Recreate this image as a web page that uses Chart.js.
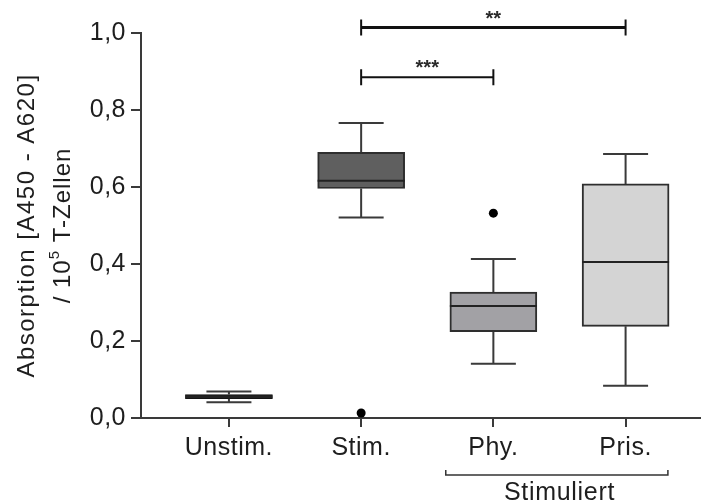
<!DOCTYPE html>
<html>
<head>
<meta charset="utf-8">
<script src="https://cdn.jsdelivr.net/npm/chart.js@4.4.1/dist/chart.umd.min.js"></script>
<style>
html,body{margin:0;padding:0;background:#fff;}
#wrap{width:704px;height:504px;position:relative;}
</style>
</head>
<body>
<div id="wrap"><canvas id="c" width="704" height="504"></canvas></div>
<script>
// ---- data ----
const categories = ['Unstim.', 'Stim.', 'Phy.', 'Pris.'];
const whiskerMin = [0.041, 0.521, 0.141, 0.084];
const quartile1  = [0.050, 0.596, 0.224, 0.238];
const medians    = [0.055, 0.616, 0.291, 0.405];
const quartile3  = [0.061, 0.690, 0.327, 0.608];
const whiskerMax = [0.069, 0.766, 0.413, 0.686];
const outlierCategory = [2, 3];
const outlierValues   = [0.013, 0.532];
const yTicks = [0, 0.2, 0.4, 0.6, 0.8, 1.0];
const sigFrom  = [2, 2];
const sigTo    = [4, 3];
const sigLevel = [1.014, 0.885];
const sigLabel = ['**', '***'];
const groupLabel = 'Stimuliert';
const groupFrom = 2.64;
const groupTo   = 4.32;
const yTitleLine1 = 'Absorption [A450 - A620]';
const yTitleLine2 = ['/ 10', '5', ' T-Zellen'];

// ---- styles ----
const FONT = "'Liberation Sans', Arial, Helvetica, sans-serif";
const TEXT = '#1e1e1e';
const AXIS = '#3a3a3a';
const boxColors  = ['#a4a4a4', '#5f5f5f', '#a2a1a5', '#d4d4d4'];
const boxBorders = ['#111111', '#2e2e2e', '#2e2e2e', '#2e2e2e'];
const boxBorderW = [2.5, 2, 2, 2];
const BOX_W = 87;
const CAP_HALF = 22.5;

const boxPlugin = {
  id: 'boxParts',
  beforeUpdate(chart) {
    try { chart.ctx.letterSpacing = '0.5px'; } catch (e) {}
  },
  afterDatasetsDraw(chart) {
    const ctx = chart.ctx, xs = chart.scales.x, ys = chart.scales.y;
    ctx.save();
    ctx.lineCap = 'butt';
    categories.forEach((c, i) => {
      const cx = xs.getPixelForValue(i + 1);
      ctx.strokeStyle = '#3a3a3a';
      ctx.lineWidth = 2;
      ctx.beginPath();
      ctx.moveTo(cx, ys.getPixelForValue(quartile3[i]));
      ctx.lineTo(cx, ys.getPixelForValue(whiskerMax[i]));
      ctx.moveTo(cx, ys.getPixelForValue(quartile1[i]));
      ctx.lineTo(cx, ys.getPixelForValue(whiskerMin[i]));
      ctx.moveTo(cx - CAP_HALF, ys.getPixelForValue(whiskerMax[i]));
      ctx.lineTo(cx + CAP_HALF, ys.getPixelForValue(whiskerMax[i]));
      ctx.moveTo(cx - CAP_HALF, ys.getPixelForValue(whiskerMin[i]));
      ctx.lineTo(cx + CAP_HALF, ys.getPixelForValue(whiskerMin[i]));
      ctx.stroke();
      ctx.strokeStyle = '#222';
      ctx.lineWidth = i === 0 ? 3 : 2;
      ctx.beginPath();
      ctx.moveTo(cx - BOX_W / 2, ys.getPixelForValue(medians[i]));
      ctx.lineTo(cx + BOX_W / 2, ys.getPixelForValue(medians[i]));
      ctx.stroke();
    });
    ctx.restore();
  },
  afterDraw(chart) {
    const ctx = chart.ctx, xs = chart.scales.x, ys = chart.scales.y, ca = chart.chartArea;
    ctx.save();
    sigFrom.forEach((f, i) => {
      const x1 = xs.getPixelForValue(f), x2 = xs.getPixelForValue(sigTo[i]);
      const y = ys.getPixelForValue(sigLevel[i]);
      ctx.strokeStyle = '#111';
      ctx.lineWidth = i === 0 ? 3 : 2;
      ctx.beginPath();
      ctx.moveTo(x1, y); ctx.lineTo(x2, y);
      ctx.stroke();
      ctx.lineWidth = 2;
      ctx.beginPath();
      ctx.moveTo(x1, y - 8); ctx.lineTo(x1, y + 8);
      ctx.moveTo(x2, y - 8); ctx.lineTo(x2, y + 8);
      ctx.stroke();
      ctx.fillStyle = '#2a2a2a';
      ctx.font = 'bold 20px ' + FONT;
      ctx.textAlign = 'center';
      ctx.textBaseline = 'alphabetic';
      try { ctx.letterSpacing = '0px'; } catch (e) {}
      ctx.fillText(sigLabel[i], (x1 + x2) / 2, y - 3);
    });
    const gx1 = xs.getPixelForValue(groupFrom), gx2 = xs.getPixelForValue(groupTo);
    const gy = ca.bottom + 57;
    ctx.strokeStyle = '#333';
    ctx.lineWidth = 1.5;
    ctx.beginPath();
    ctx.moveTo(gx1, gy - 5); ctx.lineTo(gx1, gy); ctx.lineTo(gx2, gy); ctx.lineTo(gx2, gy - 5);
    ctx.stroke();
    ctx.fillStyle = TEXT;
    ctx.font = '25px ' + FONT;
    ctx.textAlign = 'center';
    ctx.textBaseline = 'alphabetic';
    try { ctx.letterSpacing = '0.7px'; } catch (e) {}
    ctx.fillText(groupLabel, xs.getPixelForValue(3.5), ca.bottom + 82);
    const cy = (ca.top + ca.bottom) / 2;
    ctx.save();
    ctx.translate(34, cy);
    ctx.rotate(-Math.PI / 2);
    try { ctx.letterSpacing = '1.5px'; } catch (e) {}
    ctx.font = '24px ' + FONT;
    ctx.textAlign = 'center';
    ctx.fillText(yTitleLine1, 0, 0);
    ctx.restore();
    ctx.save();
    ctx.translate(70, cy);
    ctx.rotate(-Math.PI / 2);
    try { ctx.letterSpacing = '1px'; } catch (e) {}
    ctx.textAlign = 'left';
    ctx.font = '24px ' + FONT;
    const w0 = ctx.measureText(yTitleLine2[0]).width;
    const w2 = ctx.measureText(yTitleLine2[2]).width;
    ctx.font = '15px ' + FONT;
    const w1 = ctx.measureText(yTitleLine2[1]).width;
    let x = -(w0 + w1 + w2) / 2;
    ctx.font = '24px ' + FONT;
    ctx.fillText(yTitleLine2[0], x, 0); x += w0;
    ctx.font = '15px ' + FONT;
    ctx.fillText(yTitleLine2[1], x, -11); x += w1;
    ctx.font = '24px ' + FONT;
    ctx.fillText(yTitleLine2[2], x, 0);
    ctx.restore();
    ctx.restore();
  }
};

new Chart(document.getElementById('c'), {
  type: 'bar',
  data: {
    datasets: [
      {
        type: 'bar',
        data: categories.map((c, i) => ({ x: i + 1, y: [quartile1[i], quartile3[i]] })),
        backgroundColor: boxColors,
        borderColor: boxBorders,
        borderWidth: boxBorderW,
        borderSkipped: false,
        barThickness: BOX_W
      },
      {
        type: 'scatter',
        data: outlierCategory.map((c, i) => ({ x: c, y: outlierValues[i] })),
        pointRadius: 4.5,
        backgroundColor: '#000',
        borderColor: '#000',
        borderWidth: 0
      }
    ]
  },
  options: {
    responsive: false,
    animation: false,
    devicePixelRatio: 1,
    layout: { padding: { top: 33, right: 0, bottom: 0, left: 0 } },
    plugins: { legend: { display: false }, tooltip: { enabled: false }, title: { display: false } },
    scales: {
      x: {
        type: 'linear',
        offset: false,
        min: 0.335,
        max: 4.559,
        afterBuildTicks: s => { s.ticks = categories.map((c, i) => ({ value: i + 1 })); },
        afterFit: s => { s.height = 86; },
        ticks: {
          callback: v => categories[Math.round(v) - 1] || '',
          font: { family: FONT, size: 25 },
          color: TEXT,
          padding: 6,
          maxRotation: 0,
          autoSkip: false
        },
        grid: { offset: false, drawOnChartArea: false, drawTicks: true, tickLength: 9, color: AXIS, lineWidth: 2 },
        border: { display: true, color: AXIS, width: 2 }
      },
      y: {
        min: 0,
        max: 1,
        afterBuildTicks: s => { s.ticks = yTicks.map(v => ({ value: v })); },
        afterFit: s => { s.width = 141; },
        ticks: {
          callback: v => v.toFixed(1).replace('.', ','),
          font: { family: FONT, size: 25 },
          color: TEXT,
          padding: 5
        },
        grid: { drawOnChartArea: false, drawTicks: true, tickLength: 10, color: AXIS, lineWidth: 2 },
        border: { display: true, color: AXIS, width: 2 }
      }
    }
  },
  plugins: [boxPlugin]
});
</script>
</body>
</html>
